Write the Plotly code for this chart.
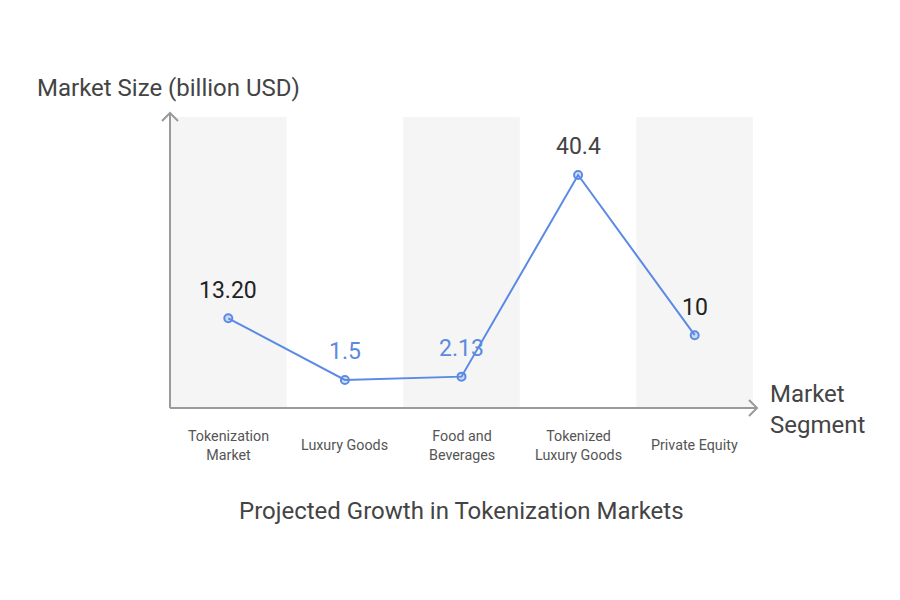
import plotly.graph_objects as go

categories = ["Tokenization Market", "Luxury Goods", "Food and Beverages",
              "Tokenized Luxury Goods", "Private Equity"]
tick_labels = ["Tokenization<br>Market", "Luxury Goods", "Food and<br>Beverages",
               "Tokenized<br>Luxury Goods", "Private Equity"]
values = [13.20, 1.5, 2.13, 40.4, 10]
value_labels = ["13.20", "1.5", "2.13", "40.4", "10"]
label_colors = ["#222222", "#5b8ae0", "#5b8ae0", "#444444", "#222222"]

LINE = "#5b8ae6"
AXIS = "#9a9a9a"
FONT = "Roboto, 'Open Sans', sans-serif"

# plot area in pixels: x 170..753, y 117..408
L, R, T, B = 170, 753, 117, 408
W, H = R - L, B - T
def px(x):
    return (x - L) / W
def py(y):
    return (B - y) / H

xs = list(range(len(categories)))

fig = go.Figure()
fig.add_trace(go.Scatter(
    x=xs, y=values, mode="lines+markers",
    line=dict(color=LINE, width=2),
    marker=dict(size=8, color="rgba(91,138,230,0.25)",
                line=dict(color=LINE, width=2)),
    hoverinfo="skip", showlegend=False,
))

shapes = []
for i in xs:
    if i % 2 == 0:
        shapes.append(dict(type="rect", xref="x", yref="paper",
                           x0=i - 0.5, x1=i + 0.5, y0=0, y1=1,
                           fillcolor="#f5f5f5", line=dict(width=0), layer="below"))
# axes lines
shapes.append(dict(type="line", xref="paper", yref="paper",
                   x0=0, x1=0, y0=0, y1=py(113), line=dict(color=AXIS, width=2)))
shapes.append(dict(type="line", xref="paper", yref="paper",
                   x0=0, x1=px(757), y0=0, y1=0, line=dict(color=AXIS, width=2)))
# arrow heads
shapes.append(dict(type="path", xref="paper", yref="paper",
                   path=f"M {px(162)} {py(121)} L {px(170)} {py(113)} L {px(178)} {py(121)}",
                   line=dict(color=AXIS, width=2)))
shapes.append(dict(type="path", xref="paper", yref="paper",
                   path=f"M {px(749)} {py(400)} L {px(757)} {py(408)} L {px(749)} {py(416)}",
                   line=dict(color=AXIS, width=2)))

annotations = []
for i, (v, t, c) in enumerate(zip(values, value_labels, label_colors)):
    annotations.append(dict(x=i, y=v, xref="x", yref="y", text=t, showarrow=False,
                            yshift=28, font=dict(size=23, color=c, family=FONT)))
# category labels, vertically centred under the axis
for i, t in enumerate(tick_labels):
    annotations.append(dict(x=i, y=py(445), xref="x", yref="paper", text=t,
                            showarrow=False, xanchor="center", yanchor="middle",
                            align="center",
                            font=dict(size=14.3, color="#555555", family=FONT)))
annotations.append(dict(x=px(35), y=py(88), xref="paper", yref="paper",
                        text="Market Size (billion USD)", showarrow=False,
                        xanchor="left", yanchor="middle",
                        font=dict(size=24, color="#444444", family=FONT)))
annotations.append(dict(x=px(768), y=py(409), xref="paper", yref="paper",
                        text="Market<br>Segment", showarrow=False, align="left",
                        xanchor="left", yanchor="middle",
                        font=dict(size=24, color="#444444", family=FONT)))
annotations.append(dict(x=px(461), y=py(511), xref="paper", yref="paper",
                        text="Projected Growth in Tokenization Markets", showarrow=False,
                        xanchor="center", yanchor="middle",
                        font=dict(size=24, color="#444444", family=FONT)))

fig.update_layout(
    width=900, height=600,
    margin=dict(l=L, r=900 - R, t=T, b=600 - B),
    plot_bgcolor="white", paper_bgcolor="white",
    shapes=shapes, annotations=annotations,
    xaxis=dict(range=[-0.5, 4.5], showgrid=False, zeroline=False, showline=False,
               showticklabels=False, ticks="", fixedrange=True),
    yaxis=dict(range=[-3.82, 51.4], showgrid=False, zeroline=False, showline=False,
               showticklabels=False, ticks="", fixedrange=True),
)

fig.write_html("out.html")
